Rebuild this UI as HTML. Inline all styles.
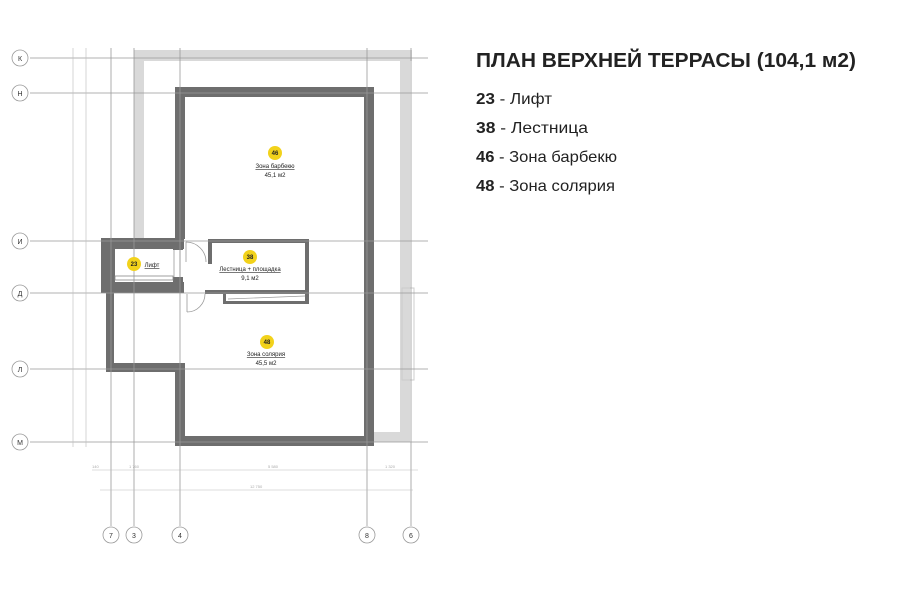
<!DOCTYPE html>
<html><head><meta charset="utf-8"><style>
body{margin:0;background:#fff;width:900px;height:600px;overflow:hidden}
svg{display:block}
</style></head><body>
<svg width="900" height="600" viewBox="0 0 900 600" xmlns="http://www.w3.org/2000/svg" font-family="Liberation Sans, sans-serif">
<g fill="#d9d9d9">
<rect x="134" y="50" width="278" height="11"/>
<rect x="134" y="50" width="10" height="190"/>
<rect x="400" y="50" width="10" height="392"/>
<rect x="370" y="432" width="40" height="10"/>
<rect x="402" y="288" width="12" height="92" fill="none" stroke="#ccc"/>
</g>
<g fill="#6e6e6e">
<rect x="175" y="87" width="199" height="10"/>
<rect x="364" y="87" width="10" height="359"/>
<rect x="175" y="436" width="199" height="10"/>
<rect x="175" y="87" width="10" height="152"/>
<rect x="175" y="363" width="10" height="83"/>
<rect x="106" y="363" width="79" height="9"/>
<rect x="106" y="293" width="8" height="79"/>
<rect x="101" y="238" width="83" height="11"/>
<rect x="101" y="238" width="14" height="55"/>
<rect x="101" y="282" width="83" height="11"/>
<rect x="173" y="238" width="10" height="12"/>
<rect x="173" y="277" width="10" height="16"/>
<rect x="208" y="239" width="101" height="4"/>
<rect x="305" y="239" width="4" height="65"/>
<rect x="208" y="239" width="4" height="25"/>
<rect x="205" y="290" width="104" height="4"/>
<rect x="223" y="290" width="3" height="14"/>
<rect x="223" y="301" width="86" height="3"/>
</g>
<rect x="115" y="276" width="58" height="4" fill="#fff" stroke="#888" stroke-width="0.8"/>
<line x1="174" y1="250" x2="174" y2="277" stroke="#999" stroke-width="0.8"/>
<line x1="180" y1="250" x2="180" y2="277" stroke="#999" stroke-width="0.8"/>
<path d="M186 242 L186 262 M186 242 A20 20 0 0 1 206 262" fill="none" stroke="#999" stroke-width="0.8"/>
<path d="M187 294 L187 312 M205 294 A18 18 0 0 1 187 312" fill="none" stroke="#999" stroke-width="0.8"/>
<path d="M228 299 L305 296" stroke="#999" stroke-width="0.7"/>
<g stroke="#999" stroke-width="0.8">
<line x1="30" y1="58" x2="428" y2="58"/>
<line x1="30" y1="93" x2="428" y2="93"/>
<line x1="30" y1="241" x2="428" y2="241"/>
<line x1="30" y1="293" x2="428" y2="293"/>
<line x1="30" y1="369" x2="428" y2="369"/>
<line x1="30" y1="442" x2="428" y2="442"/>
<line x1="111" y1="48" x2="111" y2="526"/>
<line x1="134" y1="48" x2="134" y2="526"/>
<line x1="180" y1="48" x2="180" y2="526"/>
<line x1="367" y1="48" x2="367" y2="526"/>
<line x1="411" y1="48" x2="411" y2="526"/>
</g>
<g stroke="#bbb" stroke-width="0.6">
<line x1="73" y1="48" x2="73" y2="447"/>
<line x1="86" y1="48" x2="86" y2="447"/>
<line x1="92" y1="470" x2="418" y2="470"/>
<line x1="100" y1="490" x2="413" y2="490"/>
</g>
<g font-size="4" fill="#aaa">
<text x="92" y="468">140</text><text x="129" y="468">1 760</text><text x="268" y="468">5 580</text><text x="385" y="468">1 320</text><text x="250" y="488">12 750</text>
</g>
<g fill="#fff" stroke="#999" stroke-width="0.8">
<circle cx="20" cy="58" r="8"/><circle cx="20" cy="93" r="8"/><circle cx="20" cy="241" r="8"/><circle cx="20" cy="293" r="8"/><circle cx="20" cy="369" r="8"/><circle cx="20" cy="442" r="8"/>
<circle cx="111" cy="535" r="8"/><circle cx="134" cy="535" r="8"/><circle cx="180" cy="535" r="8"/><circle cx="367" cy="535" r="8"/><circle cx="411" cy="535" r="8"/>
</g>
<g font-size="7" fill="#333" text-anchor="middle">
<text x="20" y="61">К</text><text x="20" y="96">Н</text><text x="20" y="244">И</text><text x="20" y="296">Д</text><text x="20" y="372">Л</text><text x="20" y="445">М</text>
<text x="111" y="538">7</text><text x="134" y="538">3</text><text x="180" y="538">4</text><text x="367" y="538">8</text><text x="411" y="538">6</text>
</g>
<g fill="#f2d21b"><circle cx="275" cy="153" r="7"/><circle cx="250" cy="257" r="7"/><circle cx="134" cy="264" r="7"/><circle cx="267" cy="342" r="7"/></g>
<g font-size="6" fill="#222" text-anchor="middle">
<text x="275" y="155" font-weight="bold">46</text><text x="250" y="259" font-weight="bold">38</text><text x="134" y="266" font-weight="bold">23</text><text x="267" y="344" font-weight="bold">48</text>
<text x="275" y="168" text-decoration="underline">Зона барбекю</text><text x="275" y="177">45,1 м2</text>
<text x="250" y="271" text-decoration="underline">Лестница + площадка</text><text x="250" y="280">9,1 м2</text>
<text x="152" y="267" text-decoration="underline">Лифт</text>
<text x="266" y="356" text-decoration="underline">Зона солярия</text><text x="266" y="365">45,5 м2</text>
</g>
<g fill="#222">
<text x="476" y="67" font-size="20.5" font-weight="bold" textLength="380" lengthAdjust="spacingAndGlyphs">ПЛАН ВЕРХНЕЙ ТЕРРАСЫ (104,1 м2)</text>
<text x="476" y="104" font-size="16" textLength="76" lengthAdjust="spacingAndGlyphs"><tspan font-weight="bold">23</tspan> - Лифт</text>
<text x="476" y="133" font-size="16" textLength="112" lengthAdjust="spacingAndGlyphs"><tspan font-weight="bold">38</tspan>  - Лестница</text>
<text x="476" y="162" font-size="16" textLength="141" lengthAdjust="spacingAndGlyphs"><tspan font-weight="bold">46</tspan> - Зона барбекю</text>
<text x="476" y="191" font-size="16" textLength="139" lengthAdjust="spacingAndGlyphs"><tspan font-weight="bold">48</tspan> - Зона солярия</text>
</g>
</svg>
</body></html>
